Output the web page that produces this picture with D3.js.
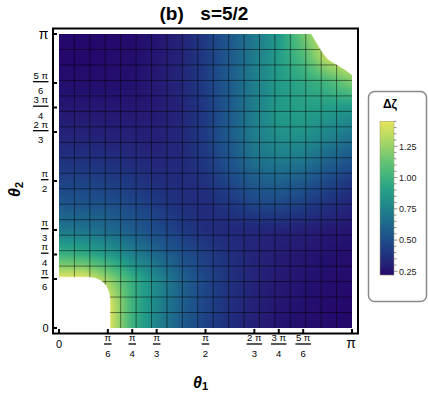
<!DOCTYPE html>
<html>
<head>
<meta charset="utf-8">
<script src="https://cdn.jsdelivr.net/npm/d3@7"></script>
<style>
body { margin: 0; background: #fff; }
svg { display: block; font-family: Arial, "Liberation Sans", sans-serif; }
</style>
</head>
<body>
<div id="chart"></div>
<script>
// sample angles, in units of pi (theta1 = columns, theta2 = rows)
const gridPi = d3.range(13).map(i => i / 12);

// delta zeta, row j = theta2 index (0 .. pi), column i = theta1 index (0 .. pi)
// nodes hidden under the white corners carry the edge value
const dz = [
  [1.45, 1.45, 1.45, 1.00, 0.75, 0.57, 0.45, 0.36, 0.30, 0.26, 0.24, 0.23, 0.22],
  [1.45, 1.45, 1.45, 1.00, 0.77, 0.59, 0.46, 0.37, 0.31, 0.27, 0.25, 0.23, 0.22],
  [1.45, 1.45, 1.25, 0.98, 0.78, 0.60, 0.47, 0.38, 0.32, 0.28, 0.26, 0.24, 0.23],
  [1.00, 0.96, 0.87, 0.74, 0.62, 0.52, 0.43, 0.37, 0.32, 0.29, 0.27, 0.25, 0.24],
  [0.70, 0.68, 0.64, 0.57, 0.49, 0.42, 0.36, 0.34, 0.33, 0.32, 0.30, 0.28, 0.26],
  [0.55, 0.54, 0.52, 0.48, 0.42, 0.37, 0.35, 0.40, 0.46, 0.47, 0.43, 0.37, 0.32],
  [0.45, 0.45, 0.43, 0.40, 0.36, 0.35, 0.38, 0.47, 0.57, 0.60, 0.56, 0.48, 0.40],
  [0.37, 0.37, 0.36, 0.34, 0.32, 0.34, 0.41, 0.54, 0.68, 0.74, 0.72, 0.63, 0.55],
  [0.31, 0.31, 0.30, 0.30, 0.30, 0.34, 0.42, 0.57, 0.73, 0.83, 0.84, 0.78, 0.70],
  [0.27, 0.27, 0.27, 0.27, 0.28, 0.32, 0.41, 0.56, 0.73, 0.87, 0.90, 0.88, 0.85],
  [0.24, 0.24, 0.24, 0.25, 0.28, 0.33, 0.43, 0.57, 0.73, 0.87, 0.93, 1.02, 1.18],
  [0.22, 0.22, 0.23, 0.24, 0.27, 0.32, 0.42, 0.56, 0.72, 0.88, 1.05, 1.35, 1.45],
  [0.22, 0.22, 0.22, 0.23, 0.26, 0.31, 0.41, 0.55, 0.70, 0.86, 1.15, 1.45, 1.45]
];

// outlines of the two white (excluded) corners, in units of pi: [theta1, theta2]
const cornerLow = [[0, 0], [0, 0.173], [0.10, 0.173], [0.125, 0.169], [0.145, 0.159], [0.16, 0.145],
                   [0.169, 0.125], [0.174, 0.10], [0.174, 0]];
const cornerHigh = [[0.862, 1], [0.880, 0.969], [0.897, 0.941], [0.919, 0.913], [0.948, 0.896],
                    [0.976, 0.879], [1, 0.861], [1, 1]];

// axis ticks
const tickPi = [0, 1/6, 1/4, 1/3, 1/2, 2/3, 3/4, 5/6, 1];
const tickNum = ['0', 'π', 'π', 'π', 'π', '2 π', '3 π', '5 π', 'π'];
const tickDen = ['', '6', '4', '3', '2', '3', '4', '6', ''];

// colour ramp
const rampVals = [0.22, 0.30, 0.40, 0.50, 0.62, 0.75, 0.88, 1.00, 1.12, 1.25, 1.35, 1.45];
const rampCols = ['#24086b', '#251f76', '#1f3680', '#1e4d8a', '#1e668c', '#1f828c',
                  '#239c88', '#3db27f', '#62c274', '#98d268', '#c2dc62', '#e8e35c'];

const legendMajor = [0.25, 0.50, 0.75, 1.00, 1.25];
const legendMinor = d3.range(0.25, 1.451, 0.05);

const width = 428, height = 395;
const x0 = 59, x1 = 352, y0 = 328, y1 = 34;

const svg = d3.select('#chart').append('svg')
    .attr('width', width)
    .attr('height', height);

let scaleX = d3.scaleLinear().domain([0, Math.PI]).range([x0, x1]);
let scaleY = d3.scaleLinear().domain([0, Math.PI]).range([y0, y1]);
let color = d3.scaleLinear().domain(rampVals).range(rampCols).clamp(true);

// density image
const cw = x1 - x0, ch = y0 - y1;
const canvas = document.createElement('canvas');
canvas.width = cw; canvas.height = ch;
const ctx = canvas.getContext('2d');
const img = ctx.createImageData(cw, ch);
const n = gridPi.length - 1;
for (let py = 0; py < ch; py++) {
  const gj = scaleY.invert(y1 + py + 0.5) / Math.PI * n;
  const j = Math.max(0, Math.min(n - 1, Math.floor(gj))), fy = gj - j;
  for (let px = 0; px < cw; px++) {
    const gi = scaleX.invert(x0 + px + 0.5) / Math.PI * n;
    const i = Math.max(0, Math.min(n - 1, Math.floor(gi))), fx = gi - i;
    const v = dz[j][i] * (1 - fx) * (1 - fy) + dz[j][i + 1] * fx * (1 - fy)
            + dz[j + 1][i] * (1 - fx) * fy + dz[j + 1][i + 1] * fx * fy;
    const c = d3.rgb(color(v));
    const k = (py * cw + px) * 4;
    img.data[k] = c.r; img.data[k + 1] = c.g; img.data[k + 2] = c.b; img.data[k + 3] = 255;
  }
}
ctx.putImageData(img, 0, 0);

svg.append('image')
    .attr('x', x0).attr('y', y1)
    .attr('width', cw).attr('height', ch)
    .attr('href', canvas.toDataURL());

// mesh
const meshPi = d3.range(1, 19).map(k => k / 19);
const mesh = svg.append('g').attr('stroke', '#000').attr('stroke-opacity', 0.48).attr('stroke-width', 1);
mesh.selectAll('.mv').data(meshPi).enter().append('line')
    .attr('x1', d => scaleX(d * Math.PI)).attr('x2', d => scaleX(d * Math.PI))
    .attr('y1', y1).attr('y2', y0);
mesh.selectAll('.mh').data(meshPi).enter().append('line')
    .attr('y1', d => scaleY(d * Math.PI)).attr('y2', d => scaleY(d * Math.PI))
    .attr('x1', x0).attr('x2', x1);

// white corners
const outline = d3.line().x(d => scaleX(d[0] * Math.PI)).y(d => scaleY(d[1] * Math.PI));
svg.selectAll('.corner').data([cornerLow, cornerHigh]).enter().append('path')
    .attr('d', d => outline(d) + 'Z')
    .attr('fill', '#fff').attr('stroke', '#fff').attr('stroke-width', 0.6);

// frame
svg.append('rect')
    .attr('x', 53).attr('y', 28.5).attr('width', 305).attr('height', 305)
    .attr('fill', 'none').attr('stroke', '#000').attr('stroke-width', 2);

// ticks
svg.selectAll('.tx').data(tickPi).enter().append('line')
    .attr('x1', d => scaleX(d * Math.PI)).attr('x2', d => scaleX(d * Math.PI))
    .attr('y1', 333).attr('y2', 329).attr('stroke', '#000').attr('stroke-width', 2);
svg.selectAll('.ty').data(tickPi).enter().append('line')
    .attr('y1', d => scaleY(d * Math.PI)).attr('y2', d => scaleY(d * Math.PI))
    .attr('x1', 53).attr('x2', 57).attr('stroke', '#000').attr('stroke-width', 2);

function fraction(g, num, den) {
  const a = g.append('text').attr('text-anchor', 'middle').attr('y', -3)
      .style('font-size', '9.5px').style('white-space', 'pre').text(num);
  const b = g.append('text').attr('text-anchor', 'middle').attr('y', 12.6)
      .style('font-size', '9.5px').text(den);
  const w = Math.max(a.node().getComputedTextLength(), b.node().getComputedTextLength()) + 1;
  g.append('line').attr('x1', -w / 2).attr('x2', w / 2).attr('y1', 0).attr('y2', 0)
      .attr('stroke', '#000').attr('stroke-width', 1.3);
  return w;
}

tickPi.forEach((t, k) => {
  const xp = scaleX(t * Math.PI), yp = scaleY(t * Math.PI);
  if (tickDen[k]) {
    const gx = svg.append('g').attr('transform', `translate(${xp},344)`);
    fraction(gx, tickNum[k], tickDen[k]);
    const gy = svg.append('g');
    const w = fraction(gy, tickNum[k], tickDen[k]);
    gy.attr('transform', `translate(${48.5 - w / 2},${yp - 1.3})`);
  } else {
    const big = tickNum[k] === 'π';
    svg.append('text').attr('x', xp - (big ? 1 : 0)).attr('y', 348)
        .attr('text-anchor', 'middle').style('font-size', big ? '14px' : '11px').text(tickNum[k]);
    svg.append('text').attr('x', 48.5).attr('y', yp + (big ? 4.5 : 4))
        .attr('text-anchor', 'end').style('font-size', big ? '14px' : '11px').text(tickNum[k]);
  }
});

// axis titles
const tx = svg.append('text').attr('x', 193).attr('y', 387.5)
    .style('font-weight', 'bold').style('font-style', 'italic').style('font-size', '16px');
tx.append('tspan').text('θ');
tx.append('tspan').attr('dy', 2.5).style('font-size', '11px').style('font-style', 'normal').text('1');

const ty = svg.append('text').attr('transform', 'translate(20,197) rotate(-90)')
    .style('font-weight', 'bold').style('font-style', 'italic').style('font-size', '16px');
ty.append('tspan').text('θ');
ty.append('tspan').attr('dy', 2.5).style('font-size', '11px').style('font-style', 'normal').text('2');

// title
svg.append('text').attr('x', 204).attr('y', 20).attr('text-anchor', 'middle')
    .style('font-weight', 'bold').style('font-size', '19px').style('white-space', 'pre')
    .style('word-spacing', '3px')
    .text('(b)  s=5/2');

// legend
const leg = svg.append('g');
leg.append('rect').attr('x', 368.5).attr('y', 91.5).attr('width', 58).attr('height', 210)
    .attr('rx', 6).attr('fill', '#fff').attr('stroke', '#8a8a8a').attr('stroke-width', 1.5);
leg.append('text').attr('x', 390).attr('y', 108).attr('text-anchor', 'middle')
    .style('font-weight', 'bold').style('font-size', '12px').text('Δζ');

let scaleL = d3.scaleLinear().domain([0.25, 1.25]).range([271.3, 146.3]);
const grad = svg.append('defs').append('linearGradient').attr('id', 'dzgrad')
    .attr('x1', 0).attr('y1', 1).attr('x2', 0).attr('y2', 0);
grad.selectAll('stop').data(rampVals).enter().append('stop')
    .attr('offset', d => (d - 0.22) / (1.45 - 0.22))
    .attr('stop-color', d => color(d));
leg.append('rect').attr('x', 380).attr('y', scaleL(1.45)).attr('width', 14)
    .attr('height', scaleL(0.22) - scaleL(1.45))
    .attr('fill', 'url(#dzgrad)').attr('stroke', '#a09a6a').attr('stroke-width', 0.5);

leg.selectAll('.lt').data(legendMinor).enter().append('line')
    .attr('x1', 394).attr('x2', d => legendMajor.some(m => Math.abs(m - d) < 1e-6) ? 397.5 : 396.5)
    .attr('y1', d => scaleL(d)).attr('y2', d => scaleL(d))
    .attr('stroke', '#777').attr('stroke-width', 0.8);
leg.selectAll('.ll').data(legendMajor).enter().append('text')
    .attr('x', 399).attr('y', d => scaleL(d) + 3.3)
    .style('font-size', '9px').style('fill', '#222')
    .text(d => d3.format('.2f')(d));
</script>
</body>
</html>
